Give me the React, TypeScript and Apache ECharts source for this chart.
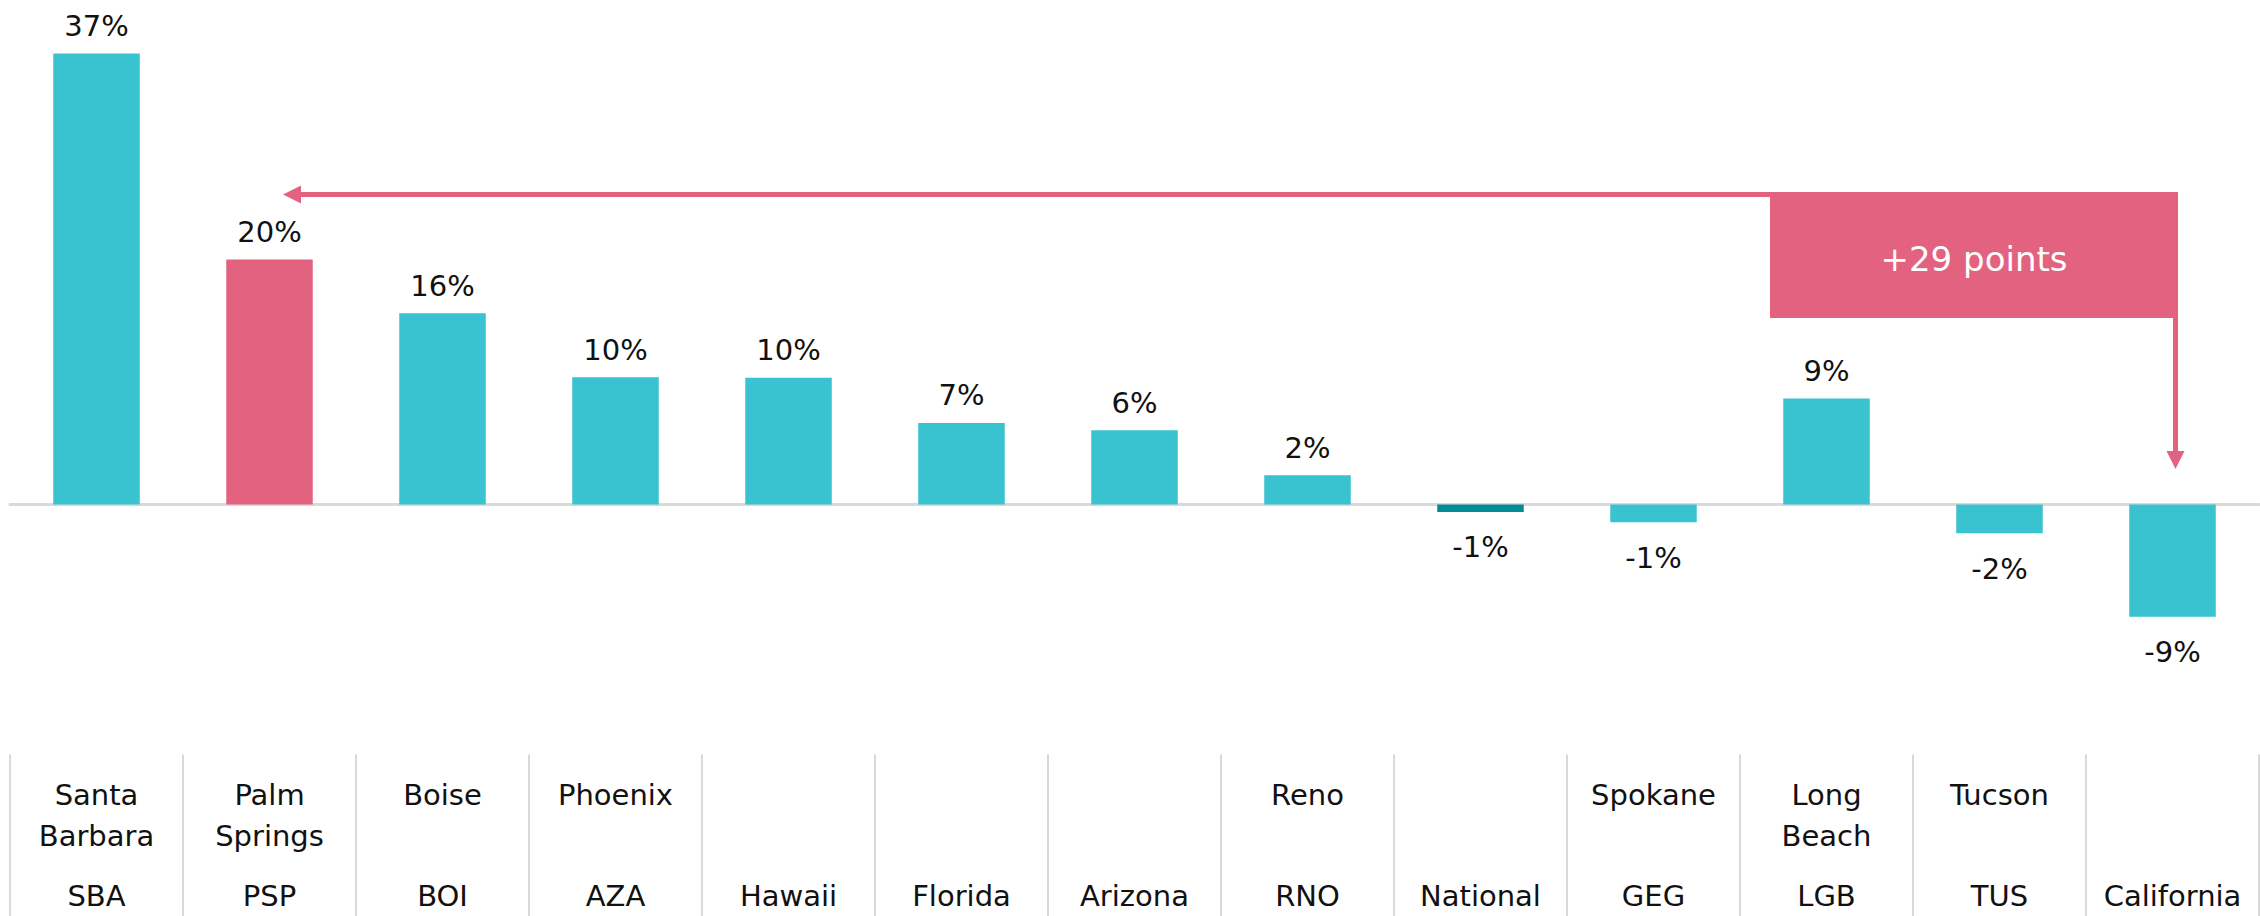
import React, { useEffect, useRef } from "react";
import * as echarts from "echarts";

// Category codes (bottom row of the table) and city names (top row)
const codes = ["SBA", "PSP", "BOI", "AZA", "Hawaii", "Florida", "Arizona", "RNO", "National", "GEG", "LGB", "TUS", "California"];
const cities = ["Santa\nBarbara", "Palm\nSprings", "Boise", "Phoenix", "", "", "", "Reno", "", "Spokane", "Long\nBeach", "Tucson", ""];
// Percent change values
const values = [37.0, 20.1, 15.7, 10.45, 10.4, 6.7, 6.1, 2.4, -0.6, -1.45, 8.7, -2.35, -9.2];
const highlightCode = "PSP";
const darkCode = "National";
const calloutText = "+29 points";

const FONT = "'DejaVu Sans', sans-serif";
const TEAL = "#39C2CF";
const PINK = "#E2627F";
const DARK_TEAL = "#008C96";

export default function App() {
  const ref = useRef<HTMLDivElement>(null);

  useEffect(() => {
    if (!ref.current) return;
    const chart = echarts.init(ref.current, undefined, { renderer: "svg" });

    const data = values.map((v, i) => ({
      value: v,
      itemStyle: {
        color: codes[i] === highlightCode ? PINK : codes[i] === darkCode ? DARK_TEAL : TEAL,
      },
      label: {
        position: v < 0 ? "bottom" : "top",
        distance: v < 0 ? 21 : 13,
      },
    }));

    chart.setOption({
      animation: false,
      backgroundColor: "#ffffff",
      grid: { left: 10, right: 1, top: 17, bottom: 284, containLabel: false },
      xAxis: [
        {
          type: "category",
          data: codes,
          axisLine: { show: true, onZero: true, lineStyle: { color: "#d9d9d9", width: 3 } },
          axisTick: { show: false },
          axisLabel: { show: false },
          splitLine: { show: false },
        },
        {
          type: "category",
          data: cities,
          position: "bottom",
          offset: 128,
          axisLine: { show: false, onZero: false },
          axisTick: { show: true, interval: 0, length: 170, lineStyle: { color: "#d9d9d9", width: 2 } },
          axisLabel: {
            show: true,
            interval: 0,
            margin: 20,
            verticalAlign: "top",
            fontFamily: FONT,
            fontSize: 29,
            lineHeight: 41,
            color: "#111111",
          },
          splitLine: { show: false },
        },
        {
          type: "category",
          data: codes,
          position: "bottom",
          offset: 128,
          axisLine: { show: false, onZero: false },
          axisTick: { show: false },
          axisLabel: {
            show: true,
            interval: 0,
            margin: 141,
            verticalAlign: "middle",
            fontFamily: FONT,
            fontSize: 29,
            lineHeight: 41,
            color: "#111111",
          },
          splitLine: { show: false },
        },
      ],
      yAxis: {
        type: "value",
        min: -10,
        max: 40,
        show: false,
        splitLine: { show: false },
      },
      series: [
        {
          type: "bar",
          xAxisIndex: 0,
          yAxisIndex: 0,
          data,
          barWidth: "50%",
          label: {
            show: true,
            fontFamily: FONT,
            fontSize: 29,
            color: "#111111",
            formatter: (p: any) => `${Math.round(p.value)}%`,
          },
        },
      ],
      graphic: [
        {
          type: "polyline",
          shape: { points: [[300, 194.5], [2175.5, 194.5], [2175.5, 452]] },
          style: { stroke: PINK, lineWidth: 5, fill: null, lineJoin: "miter" },
        },
        {
          type: "polygon",
          shape: { points: [[283, 194.5], [301, 185.5], [301, 203.5]] },
          style: { fill: PINK },
        },
        {
          type: "polygon",
          shape: { points: [[2175.5, 469], [2166.5, 451], [2184.5, 451]] },
          style: { fill: PINK },
        },
        {
          type: "rect",
          shape: { x: 1770, y: 192, width: 408, height: 126 },
          style: { fill: PINK },
        },
        {
          type: "text",
          style: {
            text: calloutText,
            x: 1974,
            y: 259,
            align: "center",
            verticalAlign: "middle",
            fill: "#ffffff",
            fontFamily: FONT,
            fontSize: 34,
          },
        },
      ],
    });

    return () => chart.dispose();
  }, []);

  return <div ref={ref} style={{ width: 2260, height: 916, position: "absolute", left: 0, top: 0 }} />;
}
